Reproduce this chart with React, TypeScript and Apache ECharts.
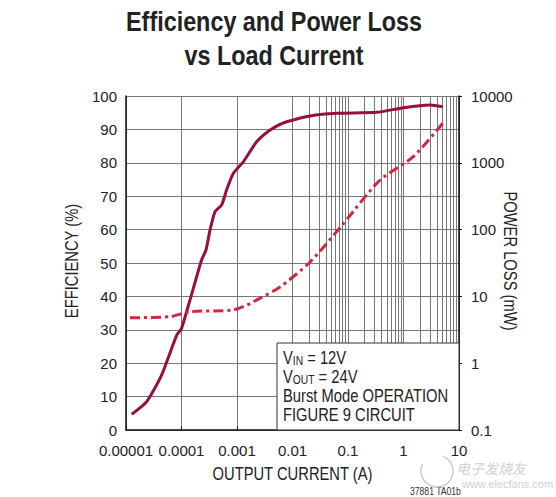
import React, { useEffect, useRef } from "react";
import * as echarts from "echarts";

// Output current (A) vs efficiency (%)
const effCurrent = [1.27e-5, 2.36e-5, 4.4e-5, 8.2e-5, 1.0e-4, 1.42e-4, 2.3e-4, 2.76e-4, 3.27e-4, 4.02e-4, 5.3e-4, 6.5e-4, 8.6e-4, 1.3e-3, 2.26e-3, 3.94e-3, 5.96e-3, 7.85e-3, 2.07e-2, 6.25e-2, 0.329, 1.0, 3.0, 5.08];
const effValues = [4.7, 8.5, 16.5, 28.4, 30.4, 38.9, 50.9, 53.9, 59.9, 65.4, 67.4, 71.9, 76.9, 80.3, 86.3, 89.8, 91.5, 92.3, 94.0, 94.8, 95.1, 96.5, 97.3, 96.8];

// Output current (A) vs power loss (mW)
const lossCurrent = [1.18e-5, 6.21e-5, 1.42e-4, 8.47e-4, 1.51e-3, 2.59e-3, 5.96e-3, 2.07e-2, 8.13e-2, 0.378, 1.48, 5.15];
const lossValues = [4.8, 4.97, 5.9, 6.25, 7.43, 9.37, 13.8, 32.7, 121, 553, 1222, 3945];

const xTickLabels = ["0.00001", "0.0001", "0.001", "0.01", "0.1", "1", "10"];
const rightTickLabels = ["0.1", "1", "10", "100", "1000", "10000"];
const minorMultipliers = [2, 3, 4, 5, 6, 7, 8, 9];
const minorDecades = [-5, -4, -3, -2, -1, 0];

const REG = "'Liberation Sans', Arial, sans-serif";
const SQ = 0.82; // horizontal squeeze to mimic a condensed face

export default function App() {
  const ref = useRef<HTMLDivElement>(null);
  useEffect(() => {
    if (!ref.current) return;
    const chart = echarts.init(ref.current, undefined, { renderer: "svg" });
    const minorLines: any[] = [];
    minorDecades.forEach((d) =>
      minorMultipliers.forEach((m) => minorLines.push({ xAxis: m * Math.pow(10, d) }))
    );
    const gridColor = "#777777";
    chart.setOption({
      animation: false,
      backgroundColor: "#ffffff",
      grid: { left: 126, right: 97, top: 96, bottom: 67, containLabel: false },
      xAxis: {
        type: "log",
        logBase: 10,
        min: 1e-5,
        max: 10,
        axisLine: { show: true, onZero: false, lineStyle: { color: "#111", width: 1.5 } },
        axisTick: { show: true, inside: true, length: 4, lineStyle: { color: "#111" } },
        axisLabel: {
          margin: 13,
          fontFamily: REG,
          fontSize: 15,
          color: "#222",
          formatter: (v: number) => xTickLabels[Math.round(Math.log10(v)) + 5] ?? "",
        },
        splitLine: { show: true, lineStyle: { color: gridColor, width: 1 } },
      },
      yAxis: [
        {
          type: "value",
          min: 0,
          max: 100,
          interval: 10,
          axisLine: { show: true, lineStyle: { color: "#111", width: 1.5 } },
          axisTick: { show: false },
          axisLabel: { margin: 9, fontFamily: REG, fontSize: 15, color: "#222" },
          splitLine: { show: true, lineStyle: { color: gridColor, width: 1 } },
        },
        {
          type: "log",
          logBase: 10,
          min: 0.1,
          max: 10000,
          position: "right",
          axisLine: { show: true, lineStyle: { color: "#111", width: 1.5 } },
          axisTick: { show: true, length: 3, lineStyle: { color: "#111" } },
          axisLabel: {
            margin: 12,
            fontFamily: REG,
            fontSize: 15,
            color: "#222",
            formatter: (v: number) => rightTickLabels[Math.round(Math.log10(v)) + 1] ?? "",
          },
          splitLine: { show: false },
        },
      ],
      series: [
        {
          type: "line",
          name: "grid",
          data: [],
          silent: true,
          markLine: {
            z: 1,
            silent: true,
            symbol: ["none", "none"],
            label: { show: false },
            lineStyle: { color: gridColor, width: 1, type: "solid" },
            emphasis: { disabled: true },
            data: minorLines,
          },
        },
        {
          type: "line",
          name: "Efficiency",
          xAxisIndex: 0,
          yAxisIndex: 0,
          z: 3,
          smooth: 0.2,
          showSymbol: false,
          symbol: "none",
          lineStyle: { color: "#98103a", width: 3 },
          data: effCurrent.map((x, i) => [x, effValues[i]]),
        },
        {
          type: "line",
          name: "Power Loss",
          xAxisIndex: 0,
          yAxisIndex: 1,
          z: 3,
          smooth: 0.25,
          showSymbol: false,
          symbol: "none",
          lineStyle: { color: "#d8243f", width: 3, type: [10, 4, 3, 4], cap: "butt" },
          data: lossCurrent.map((x, i) => [x, lossValues[i]]),
        },
      ],
      graphic: [
        {
          type: "text",
          x: 274,
          y: 4,
          z: 10,
          scaleX: SQ,
          style: {
            text: "Efficiency and Power Loss\nvs Load Current",
            textAlign: "center",
            fontFamily: REG,
            fontWeight: "bold",
            fontSize: 28.5,
            lineHeight: 34,
            fill: "#222",
          },
        },
        {
          type: "text",
          x: 292.5,
          y: 473,
          z: 10,
          scaleX: SQ,
          style: {
            text: "OUTPUT CURRENT (A)",
            textAlign: "center",
            textVerticalAlign: "middle",
            fontFamily: REG,
            fontSize: 18,
            fill: "#222",
          },
        },
        {
          type: "text",
          x: 71.5,
          y: 261,
          z: 10,
          rotation: Math.PI / 2,
          scaleX: SQ,
          style: {
            text: "EFFICIENCY (%)",
            textAlign: "center",
            textVerticalAlign: "middle",
            fontFamily: REG,
            fontSize: 18,
            fill: "#222",
          },
        },
        {
          type: "text",
          x: 510.5,
          y: 261,
          z: 10,
          rotation: -Math.PI / 2,
          scaleX: SQ,
          style: {
            text: "POWER LOSS (mW)",
            textAlign: "center",
            textVerticalAlign: "middle",
            fontFamily: REG,
            fontSize: 18,
            fill: "#222",
          },
        },
        {
          type: "rect",
          z: 50,
          shape: { x: 277, y: 343, width: 182, height: 87 },
          style: { fill: "#ffffff", stroke: "#333", lineWidth: 1 },
        },
        {
          type: "text",
          x: 283,
          y: 348,
          z: 51,
          scaleX: SQ,
          style: {
            text: "V{sub|IN} = 12V\nV{sub|OUT} = 24V\nBurst Mode OPERATION\nFIGURE 9 CIRCUIT",
            fontFamily: REG,
            fontSize: 18,
            lineHeight: 19,
            fill: "#222",
            rich: {
              sub: { fontFamily: REG, fontSize: 12.5, lineHeight: 10, verticalAlign: "bottom", fill: "#222" },
            },
          },
        },
        {
          type: "text",
          x: 410,
          y: 486,
          z: 10,
          scaleX: SQ,
          style: { text: "37881 TA01b", fontFamily: REG, fontSize: 10.5, fill: "#333" },
        },
        {
          type: "arc",
          z: 11,
          shape: { cx: 437, cy: 471, r: 16, startAngle: -1.2, endAngle: 3.6 },
          style: { stroke: "#cccccc", lineWidth: 1.5, fill: "none" },
        },
        {
          type: "text",
          x: 456,
          y: 461,
          z: 11,
          style: { text: "电子发烧友", fontFamily: "'Noto Sans CJK SC', sans-serif", fontSize: 14, fontStyle: "italic", fill: "#d0d0d0" },
        },
        {
          type: "text",
          x: 462,
          y: 478,
          z: 11,
          style: { text: "www.elecfans.com", fontFamily: REG, fontSize: 11, fill: "#d0d0d0" },
        },
      ],
    });
    return () => chart.dispose();
  }, []);
  return <div ref={ref} style={{ position: "fixed", left: 0, top: 0, width: 556, height: 497 }} />;
}
